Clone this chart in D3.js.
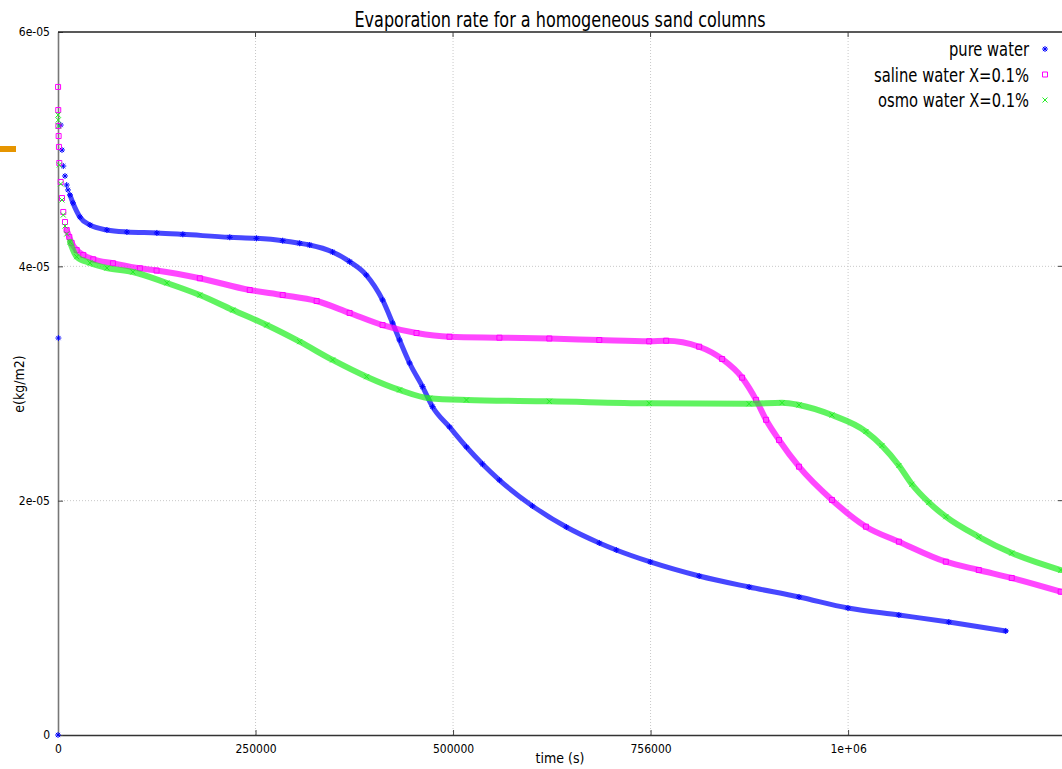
<!DOCTYPE html>
<html>
<head>
<meta charset="utf-8">
<script src="https://cdn.jsdelivr.net/npm/d3@7"></script>
<style>
  body { margin: 0; background: #fff; }
  text { font-family: "DejaVu Sans Condensed", "DejaVu Sans", sans-serif; font-stretch: condensed; fill: #000; }
</style>
</head>
<body>
<div class="chart"></div>
<script>
// tick values and labels
var timeTicks = [0, 250000, 500000, 750000, 1000000];
var timeTickLabels = ["0", "250000", "500000", "756000", "1e+06"];
var eTicks = [0, 2, 4, 6];            // in 1e-05 kg/m2
var eTickLabels = ["0", "2e-05", "4e-05", "6e-05"];

var seriesNames = ["pure water", "saline water X=0.1%", "osmo water X=0.1%"];

// pure water (e in 1e-05)
var pureTime = [0, 506, 3413, 5056, 6700, 8848, 10997, 12640, 15168, 18960, 27808, 40448, 61936, 87216,
  125136, 158000, 217408, 251157, 284400, 305888, 318528, 347600, 369088, 390197, 410800, 423440,
  432288, 444928, 461360, 474000, 495488, 516976, 537200, 558688, 600400, 643376, 685088, 706576,
  749552, 811488, 874688, 937888, 999824, 1064288, 1127488, 1199536];
var pureE = [0, 3.388, 5.206, 4.993, 4.856, 4.771, 4.694, 4.652, 4.609, 4.541, 4.421, 4.353, 4.310, 4.293,
  4.285, 4.273, 4.248, 4.239, 4.219, 4.197, 4.182, 4.122, 4.040, 3.926, 3.713, 3.516,
  3.371, 3.175, 2.973, 2.802, 2.629, 2.458, 2.313, 2.176, 1.955, 1.775, 1.639, 1.579,
  1.477, 1.357, 1.263, 1.178, 1.084, 1.024, 0.964, 0.888];

// saline water
var salineTime = [100, 300, 500, 800, 1200, 1643, 3413, 5056, 6699, 8848, 10997, 14283, 17317, 23637,
  31979, 44619, 69520, 103648, 124757, 179488, 242688, 284400, 327376, 369088, 410800, 453776,
  495488, 558688, 621888, 685088, 748288, 769776, 811488, 840560, 865840, 883536, 896176, 912608,
  937888, 979600, 1022576, 1064288, 1123696, 1165408, 1207120, 1269056];
var salineE = [5.531, 5.334, 5.198, 5.112, 5.019, 4.882, 4.720, 4.583, 4.464, 4.378, 4.310, 4.250, 4.199, 4.139,
  4.097, 4.060, 4.026, 3.983, 3.964, 3.898, 3.798, 3.755, 3.704, 3.602, 3.499, 3.431,
  3.399, 3.391, 3.384, 3.371, 3.360, 3.365, 3.314, 3.209, 3.050, 2.860, 2.690, 2.518,
  2.290, 2.006, 1.778, 1.650, 1.479, 1.408, 1.340, 1.223];

// osmo water
var osmoTime = [100, 300, 600, 1643, 3413, 5056, 6699, 8848, 10997, 15168, 23637, 40448, 61936, 94800,
  137776, 179488, 221200, 264176, 305888, 347600, 390576, 432288, 470208, 516976, 621888, 748288,
  874688, 916400, 937888, 979600, 1022576, 1042800, 1064288, 1080720, 1102208, 1123696, 1165408,
  1207120, 1269056];
var osmoE = [5.292, 5.249, 5.198, 4.865, 4.703, 4.566, 4.438, 4.344, 4.276, 4.208, 4.082, 4.029, 3.986, 3.952,
  3.858, 3.755, 3.627, 3.499, 3.357, 3.201, 3.058, 2.945, 2.874, 2.859, 2.848, 2.831,
  2.827, 2.836, 2.817, 2.731, 2.590, 2.470, 2.300, 2.140, 1.985, 1.863, 1.692,
  1.553, 1.408];

var svgWidth = 1062, svgHeight = 769;
var margin = { top: 32, right: -1, bottom: 34, left: 58 };
var width = svgWidth - margin.left - margin.right;
var height = svgHeight - margin.top - margin.bottom;

var svg = d3.select(".chart").append("svg")
  .attr("width", svgWidth)
  .attr("height", svgHeight);

// odd little orange mark at the left edge of the original window
svg.append("rect").attr("x", 0).attr("y", 146).attr("width", 16).attr("height", 6).attr("fill", "#e69500");

var g = svg.append("g").attr("transform", `translate(${margin.left},${margin.top})`);

var x = d3.scaleLinear().domain([0, 1272000]).range([0, width]);
var y = d3.scaleLinear().domain([0, 6]).range([height, 0]);

// grid
g.append("g").selectAll("line").data(timeTicks.slice(1)).enter().append("line")
  .attr("x1", d => x(d)).attr("x2", d => x(d)).attr("y1", 0).attr("y2", height)
  .attr("stroke", "#c8c8c8").attr("stroke-width", 1).attr("stroke-dasharray", "1,2");
g.append("g").selectAll("line").data(eTicks.slice(1, 3)).enter().append("line")
  .attr("x1", 0).attr("x2", width).attr("y1", d => y(d)).attr("y2", d => y(d))
  .attr("stroke", "#c8c8c8").attr("stroke-width", 1).attr("stroke-dasharray", "1,2");

// axes
var bottomAxis = d3.axisBottom(x).tickValues(timeTicks).tickFormat((d, i) => timeTickLabels[i]).tickSizeInner(-5).tickSizeOuter(0).tickPadding(9);
var leftAxis = d3.axisLeft(y).tickValues(eTicks).tickFormat((d, i) => eTickLabels[i]).tickSizeInner(-5).tickSizeOuter(0).tickPadding(8);

var xa = g.append("g").attr("transform", `translate(0,${height})`).call(bottomAxis);
var ya = g.append("g").call(leftAxis);
[xa, ya].forEach(function(a) {
  a.selectAll("text").style("font-size", "12px").attr("fill", "#000");
  a.selectAll(".tick line").attr("stroke", "#444");
});
xa.select(".domain").attr("stroke", "#333").attr("stroke-width", 1.6);
ya.select(".domain").attr("stroke", "#777").attr("stroke-width", 1.6);

// top border and mirrored ticks
g.append("line").attr("x1", 0).attr("x2", width).attr("y1", 0).attr("y2", 0)
  .attr("stroke", "#222").attr("stroke-width", 1.6);
g.append("g").selectAll("line").data(timeTicks.slice(1)).enter().append("line")
  .attr("x1", d => x(d)).attr("x2", d => x(d)).attr("y1", 0).attr("y2", 5).attr("stroke", "#444");
g.append("g").selectAll("line").data(eTicks.slice(1, 3)).enter().append("line")
  .attr("x1", width - 5).attr("x2", width).attr("y1", d => y(d)).attr("y2", d => y(d)).attr("stroke", "#444");

// markers
function starPath(s) { return `M${-s},0H${s}M0,${-s}V${s}M${-s*0.7},${-s*0.7}L${s*0.7},${s*0.7}M${-s*0.7},${s*0.7}L${s*0.7},${-s*0.7}`; }
function squarePath(s) { return `M${-s},${-s}H${s}V${s}H${-s}Z`; }
function crossPath(s) { return `M${-s},${-s}L${s},${s}M${-s},${s}L${s},${-s}`; }

var series = [
  { name: seriesNames[0], t: pureTime, e: pureE, color: "#0000ff", band: 5, start: 8, marker: starPath(3), w: 80 },
  { name: seriesNames[1], t: salineTime, e: salineE, color: "#ff00ff", band: 6, start: 10, marker: squarePath(2.5), w: 155 },
  { name: seriesNames[2], t: osmoTime, e: osmoE, color: "#22ee22", band: 6, start: 9, marker: crossPath(2.5), w: 151 }
];

svg.append("defs").append("clipPath").attr("id", "plotclip")
  .append("rect").attr("x", -4).attr("y", -4).attr("width", width + 4).attr("height", height + 8);

var plot = g.append("g").attr("clip-path", "url(#plotclip)");

var line = d3.line().x(d => x(d[0])).y(d => y(d[1])).curve(d3.curveMonotoneX);

series.forEach(function(s) {
  var pts = s.t.map((t, i) => [t, s.e[i]]);
  plot.append("path")
    .datum(pts.slice(s.start))
    .attr("d", line)
    .attr("fill", "none")
    .attr("stroke", s.color)
    .attr("stroke-width", s.band)
    .attr("stroke-opacity", 0.72)
    .attr("stroke-linecap", "round");
  plot.append("g").selectAll("path").data(pts).enter().append("path")
    .attr("transform", d => `translate(${x(d[0])},${y(d[1])})`)
    .attr("d", s.marker)
    .attr("fill", "none")
    .attr("stroke", s.color)
    .attr("stroke-width", 1);
});

// title and axis labels
svg.append("text").attr("x", 560).attr("y", 27).attr("text-anchor", "middle")
  .attr("textLength", 411).attr("lengthAdjust", "spacingAndGlyphs")
  .style("font-size", "22px").text("Evaporation rate for a homogeneous sand columns");
svg.append("text").attr("x", 560).attr("y", 763).attr("text-anchor", "middle")
  .style("font-size", "14px").text("time (s)");
svg.append("text").attr("transform", "translate(24,384) rotate(-90)").attr("text-anchor", "middle")
  .style("font-size", "14px").text("e(kg/m2)");

// legend
var legend = svg.append("g");
series.forEach(function(s, i) {
  var ly = 49 + i * 25.5;
  legend.append("text").attr("x", 1029).attr("y", ly + 7).attr("text-anchor", "end")
    .attr("textLength", s.w).attr("lengthAdjust", "spacingAndGlyphs")
    .style("font-size", "19px").text(s.name);
  legend.append("path").attr("transform", `translate(1045,${ly})`).attr("d", s.marker)
    .attr("fill", "none").attr("stroke", s.color).attr("stroke-width", 1);
});
</script>
</body>
</html>
